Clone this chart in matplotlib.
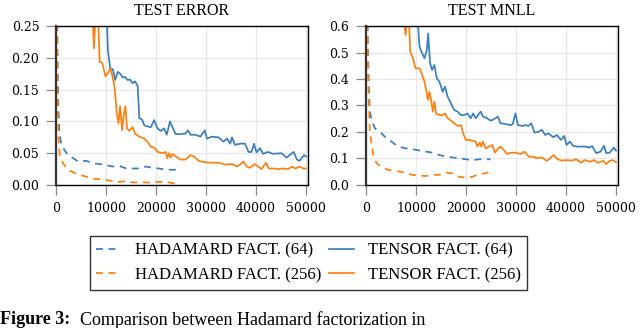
import matplotlib
matplotlib.use("Agg")
import matplotlib.pyplot as plt
from matplotlib.ticker import FormatStrFormatter

plt.rcParams["font.family"] = ["DejaVu Serif"]

# ---------------- data ----------------
# TEST ERROR panel
te_h64_x = [100, 300, 460, 660, 925, 1130, 1450, 2120, 3100, 4400, 6080, 7400, 8730, 10050, 11370,
            12700, 14000, 15340, 16660, 18000, 19300, 20600, 21950, 23270, 24600]
te_h64_y = [0.50, 0.20, 0.129, 0.086, 0.070, 0.063, 0.058, 0.050, 0.044, 0.037, 0.038, 0.034, 0.033,
            0.031, 0.029, 0.030, 0.026, 0.026, 0.026, 0.029, 0.027, 0.026, 0.024, 0.024, 0.024]

te_h256_x = [100, 300, 460, 650, 790, 1130, 1450, 2115, 3100, 4760, 6080, 7400, 8730, 10050, 11370,
             12700, 14000, 15340, 16660, 18000, 19300, 20600, 21950, 23270, 24250]
te_h256_y = [0.50, 0.15, 0.081, 0.055, 0.045, 0.039, 0.034, 0.026, 0.021, 0.016, 0.013, 0.010, 0.009,
             0.008, 0.006, 0.005, 0.006, 0.004, 0.004, 0.004, 0.004, 0.005, 0.005, 0.003, 0.002]

te_t64_x = [9000, 10180, 10380, 10840, 11370, 11830, 12360, 12820, 13350, 13820, 14340, 14800, 15340,
            15800, 16330, 16660, 17190, 17650, 18310, 18970, 19630, 20300, 20950, 21600, 22150, 22800,
            23400, 23930, 24920, 25900, 26380, 26900, 27900, 28900, 29750, 30200, 31200, 32500, 33500,
            34200, 34850, 35200, 35800, 36800, 37800, 38500, 39100, 39600, 40100, 40800, 41400, 42400,
            43400, 45100, 46100, 47500, 48200, 48700, 49600, 50000]
te_t64_y = [0.40, 0.26, 0.212, 0.183, 0.182, 0.165, 0.178, 0.175, 0.169, 0.170, 0.165, 0.166, 0.160,
            0.163, 0.156, 0.105, 0.103, 0.094, 0.092, 0.091, 0.102, 0.089, 0.085, 0.089, 0.079, 0.100,
            0.089, 0.080, 0.080, 0.081, 0.086, 0.079, 0.079, 0.076, 0.086, 0.073, 0.076, 0.075, 0.068,
            0.073, 0.065, 0.075, 0.063, 0.065, 0.065, 0.052, 0.052, 0.065, 0.051, 0.058, 0.049, 0.052,
            0.049, 0.050, 0.043, 0.052, 0.040, 0.038, 0.047, 0.045]

te_t256_x = [6500, 7270, 7600, 7930, 8400, 8730, 9250, 9900, 10380, 10840, 11240, 11700, 12160, 12490,
             12820, 13220, 13550, 13880, 14210, 14680, 15340, 15860, 16660, 17650, 18310, 18970, 19630,
             20300, 21290, 21950, 22280, 22600, 22940, 23270, 23930, 24920, 25900, 26900, 27560, 28560,
             29550, 31200, 32500, 33850, 35200, 36200, 36800, 37500, 38150, 38800, 39660, 40460, 41100,
             41980, 42570, 43430, 44400, 45400, 46400, 47200, 47900, 48700, 49400, 50000]
te_t256_y = [0.40, 0.27, 0.215, 0.27, 0.27, 0.194, 0.192, 0.171, 0.176, 0.183, 0.173, 0.155, 0.113,
             0.097, 0.124, 0.086, 0.110, 0.124, 0.089, 0.085, 0.091, 0.080, 0.076, 0.073, 0.068, 0.060,
             0.059, 0.052, 0.050, 0.052, 0.042, 0.050, 0.043, 0.049, 0.045, 0.040, 0.040, 0.047, 0.045,
             0.038, 0.036, 0.035, 0.035, 0.032, 0.033, 0.029, 0.032, 0.037, 0.029, 0.027, 0.033, 0.029,
             0.025, 0.035, 0.026, 0.026, 0.025, 0.026, 0.025, 0.029, 0.026, 0.029, 0.026, 0.026]

# TEST MNLL panel
nll_h64_x = [100, 300, 529, 661, 793, 1124, 1785, 2776, 3768, 5090, 6412, 8064, 9386, 10708, 12030,
             13352, 14674, 15996, 17318, 18640, 19962, 21284, 22606, 23928, 24920]
nll_h64_y = [1.0, 0.62, 0.40, 0.32, 0.277, 0.245, 0.214, 0.201, 0.182, 0.164, 0.145, 0.138, 0.135,
             0.130, 0.126, 0.122, 0.113, 0.107, 0.104, 0.101, 0.097, 0.094, 0.097, 0.097, 0.097]

nll_h256_x = [100, 264, 529, 793, 1454, 2115, 3107, 4429, 5751, 7073, 8064, 9386, 10708, 12030,
              13352, 14674, 15996, 17318, 18640, 19962, 21284, 22606, 23928, 24920]
nll_h256_y = [1.0, 0.62, 0.32, 0.195, 0.113, 0.082, 0.069, 0.057, 0.053, 0.050, 0.044, 0.038, 0.035,
              0.034, 0.038, 0.038, 0.047, 0.044, 0.031, 0.028, 0.031, 0.042, 0.044, 0.053]

nll_t64_x = [9500, 10380, 10700, 11240, 11700, 12160, 12430, 12820, 13220, 13680, 14150, 14680, 15340,
             15800, 16330, 17000, 17650, 18310, 18970, 19630, 20300, 20950, 21420, 21950, 22410, 22940,
             23400, 23930, 24920, 25580, 26380, 26900, 27900, 28900, 29350, 29880, 30400, 31200, 31860,
             32500, 33050, 33700, 34500, 35170, 35830, 36490, 37480, 38140, 39000, 39660, 40120, 40780,
             41440, 42440, 43760, 44750, 45200, 46070, 46930, 47590, 48060, 48720, 49570, 50000]
nll_t64_y = [0.90, 0.61, 0.522, 0.497, 0.478, 0.509, 0.572, 0.459, 0.434, 0.453, 0.403, 0.390, 0.352,
             0.371, 0.333, 0.308, 0.283, 0.277, 0.264, 0.264, 0.270, 0.252, 0.270, 0.252, 0.264, 0.277,
             0.258, 0.255, 0.243, 0.248, 0.258, 0.233, 0.230, 0.226, 0.230, 0.270, 0.226, 0.223, 0.226,
             0.223, 0.233, 0.198, 0.201, 0.208, 0.189, 0.195, 0.180, 0.189, 0.170, 0.185, 0.151, 0.164,
             0.147, 0.145, 0.145, 0.141, 0.147, 0.120, 0.126, 0.148, 0.120, 0.122, 0.141, 0.130]

nll_t256_x = [7000, 7600, 7930, 8200, 8590, 8860, 9390, 9920, 10710, 11240, 11700, 12030, 12360, 12690,
              13020, 13350, 13680, 14010, 14680, 15340, 15800, 16330, 17000, 17650, 18310, 18970, 19430,
              19960, 20620, 21290, 21950, 22280, 22740, 23070, 23400, 23930, 24590, 25250, 25780, 26440,
              26900, 27560, 28230, 29080, 29880, 30870, 31730, 32520, 33310, 34170, 35170, 36160, 36820,
              37480, 38340, 39130, 40120, 41110, 42110, 42970, 43760, 44750, 45610, 46400, 47390, 48060,
              48720, 49380, 50000]
nll_t256_y = [0.90, 0.62, 0.566, 0.62, 0.62, 0.503, 0.478, 0.440, 0.440, 0.415, 0.390, 0.358, 0.321,
              0.352, 0.321, 0.277, 0.315, 0.270, 0.264, 0.264, 0.270, 0.252, 0.243, 0.233, 0.223, 0.226,
              0.195, 0.170, 0.170, 0.167, 0.164, 0.145, 0.160, 0.145, 0.164, 0.138, 0.145, 0.151, 0.122,
              0.138, 0.145, 0.132, 0.117, 0.122, 0.122, 0.117, 0.126, 0.107, 0.107, 0.101, 0.104, 0.091,
              0.101, 0.113, 0.097, 0.092, 0.094, 0.092, 0.097, 0.084, 0.094, 0.088, 0.094, 0.084, 0.091,
              0.079, 0.091, 0.094, 0.086]

titles = ["TEST ERROR", "TEST MNLL"]
labels = ["HADAMARD FACT. (64)", "HADAMARD FACT. (256)", "TENSOR FACT. (64)", "TENSOR FACT. (256)"]
xticks = [0, 10000, 20000, 30000, 40000, 50000]
yticks_err = [0.00, 0.05, 0.10, 0.15, 0.20, 0.25]
yticks_nll = [0.0, 0.1, 0.2, 0.3, 0.4, 0.5, 0.6]
caption_bold = "Figure 3:"
caption_rest = "Comparison between Hadamard factorization in"

# ---------------- styling ----------------
BLUE = "#3a7fbd"
ORANGE = "#ff7f0e"
DASH = (0, (4.0, 3.2))
LW = 1.25

fig = plt.figure(figsize=(6.4, 3.28), dpi=100)
W, H = 640, 328
def axes_px(l, r, t, b):
    return fig.add_axes([l / W, 1 - b / H, (r - l) / W, (b - t) / H])

ax1 = axes_px(56, 308, 26, 185)
ax2 = axes_px(366, 618, 26, 185)

panels = [
    (ax1, [(te_h64_x, te_h64_y), (te_h256_x, te_h256_y), (te_t64_x, te_t64_y), (te_t256_x, te_t256_y)],
     yticks_err, "%.2f", (0, 0.25)),
    (ax2, [(nll_h64_x, nll_h64_y), (nll_h256_x, nll_h256_y), (nll_t64_x, nll_t64_y), (nll_t256_x, nll_t256_y)],
     yticks_nll, "%.1f", (0, 0.6)),
]
styles = [(BLUE, DASH), (ORANGE, DASH), (BLUE, "-"), (ORANGE, "-")]

handles = None
for (ax, series, yt, fmt, ylim), title in zip(panels, titles):
    hs = []
    for (x, y), (c, ls), lab in zip(series, styles, labels):
        h, = ax.plot(x, y, color=c, linestyle=ls, lw=LW, label=lab)
        hs.append(h)
    if handles is None:
        handles = hs
    ax.set_xlim(0, 50400)
    ax.set_ylim(*ylim)
    ax.set_xticks(xticks)
    ax.set_yticks(yt)
    ax.yaxis.set_major_formatter(FormatStrFormatter(fmt))
    ax.grid(True, color="#e8e8e8", lw=0.9)
    ax.set_axisbelow(True)
    for s in ax.spines.values():
        s.set_color("black")
        s.set_linewidth(1.0)
    ax.spines["left"].set_linewidth(1.6)
    ax.spines["left"].set_color("#333333")
    ax.tick_params(direction="out", length=7, width=0.9, color="#888888", pad=5,
                   labelsize=9)
    ax.set_title(title, family="Liberation Serif", fontsize=11.5, pad=8)

leg = fig.legend(handles, labels, loc="center", bbox_to_anchor=((80 + 537) / 2 / W, 1 - 263 / H),
                 ncol=2, frameon=True, fancybox=False, edgecolor="#333333", framealpha=1,
                 prop={"family": "Liberation Serif", "size": 12}, handlelength=1.5,
                 handletextpad=0.8, columnspacing=0.5, labelspacing=0.5, borderpad=0.4,
                 borderaxespad=0)
leg.get_frame().set_linewidth(1.0)

fig.text(0.0, 1 - 311 / H, caption_bold, family="Liberation Serif", fontweight="bold",
         fontsize=13, va="top", ha="left")
fig.text(80 / W, 1 - 311 / H, caption_rest, family="Liberation Serif",
         fontsize=13, va="top", ha="left")

fig.savefig("out.png", dpi=100)
